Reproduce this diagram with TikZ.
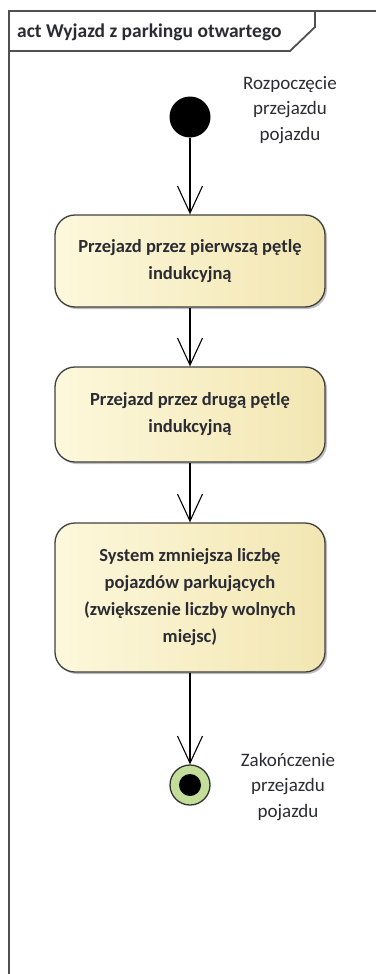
\documentclass[tikz,border=0pt]{standalone}
\usepackage{fontspec}
\setmainfont{Carlito}
\usetikzlibrary{arrows.meta,shadows}

\definecolor{framegray}{HTML}{505050}
\definecolor{actleft}{HTML}{FDF8DC}
\definecolor{actright}{HTML}{F2E6B2}
\definecolor{finalgreen}{HTML}{C3DE98}
\definecolor{labelink}{HTML}{2B2B33}

\tikzset{
  frameline/.style={draw=framegray, line width=1.8pt},
  action/.style={draw=black!75, line width=1.3pt, rounded corners=20pt,
    left color=actleft, right color=actright,
    minimum width=270pt, align=center, inner sep=4pt,
    font=\bfseries\fontsize{18.5}{27}\selectfont, text=labelink,
    drop shadow={shadow xshift=2pt, shadow yshift=-2pt, opacity=0.25, fill=black}},
  initial/.style={circle, fill=black, minimum size=41pt, inner sep=0pt},
  final/.style={circle, draw=black!80, line width=1.3pt, fill=finalgreen,
    minimum size=40pt, inner sep=0pt},
  finaldot/.style={circle, fill=black, minimum size=22pt, inner sep=0pt},
  note/.style={align=center, font=\fontsize{19}{25.5}\selectfont, text=labelink},
  flow/.style={draw=black, line width=1.1pt,
    -{Straight Barb[length=27pt, width=25pt, line width=1.1pt]}}
}

\begin{document}
\begin{tikzpicture}[x=1pt, y=-1pt]
\useasboundingbox (0,0) rectangle (375,974);

% diagram frame with its name tab
\draw[frameline] (380,11) -- (9,11) -- (9,980);
\draw[frameline] (9,51) -- (290,51) -- (315,27) -- (315,11);
\node[anchor=west, font=\bfseries\fontsize{19.5}{22}\selectfont, text=labelink, inner sep=0pt]
  (title) at (17,32) {act Wyjazd z parkingu otwartego};

% initial node
\node[initial] (start) at (190,117) {};
\node[note] (startnote) at (290,110) {Rozpoczęcie\\przejazdu\\pojazdu};

% actions
\node[action, minimum height=92pt] (a1) at (190,261)
  {Przejazd przez pierwszą pętlę\\indukcyjną};
\node[action, minimum height=95pt] (a2) at (190,414.5)
  {Przejazd przez drugą pętlę\\indukcyjną};
\node[action, minimum height=149pt] (a3) at (190,597.5)
  {System zmniejsza liczbę\\pojazdów parkujących\\(zwiększenie liczby wolnych\\miejsc)};

% final node
\node[final] (end) at (190,785) {};
\node[finaldot] (enddot) at (end) {};
\node[note] (endnote) at (288,787) {Zakończenie\\przejazdu\\pojazdu};

% control flows
\draw[flow] (start) -- (a1);
\draw[flow] (a1) -- (a2);
\draw[flow] (a2) -- (a3);
\draw[flow] (a3) -- (end);
\end{tikzpicture}
\end{document}
